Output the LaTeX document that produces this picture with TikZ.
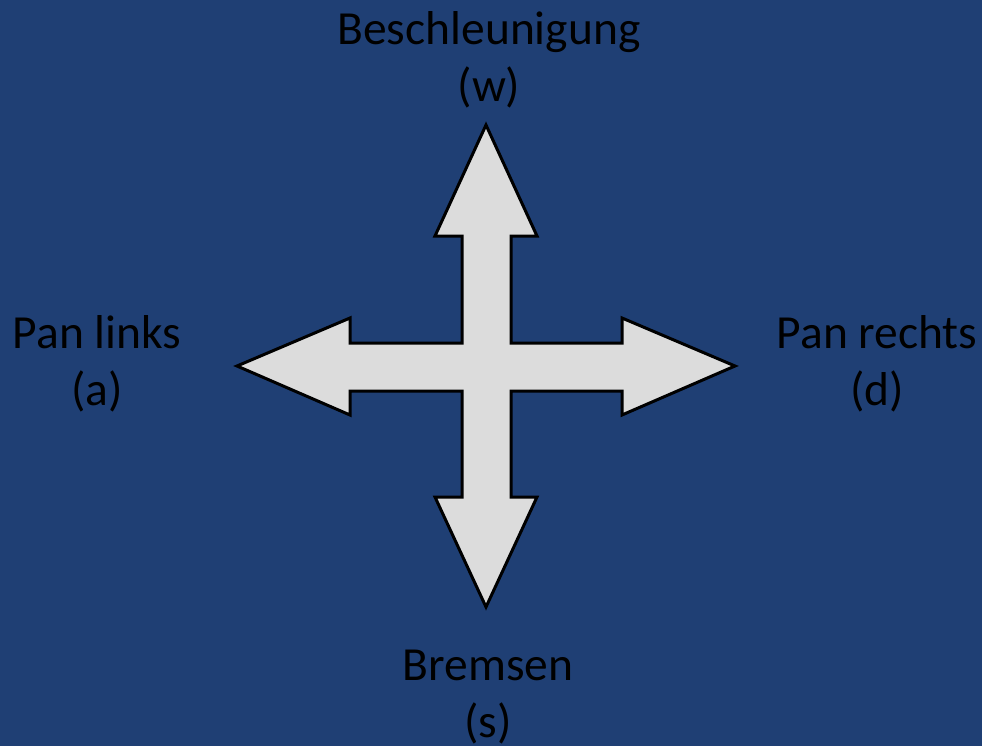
\documentclass[tikz,border=0pt]{standalone}
\usepackage{fontspec}
\setmainfont{Carlito}
\definecolor{bg}{HTML}{1F3F74}
\definecolor{arrowfill}{HTML}{DCDCDC}
\tikzset{
  lbl/.style={text=black, align=center, inner sep=0pt, anchor=base,
    font=\fontsize{47.5}{57}\selectfont},
  cross/.style={draw=black, line width=3pt, fill=arrowfill, line join=miter}
}
\begin{document}
\begin{tikzpicture}[x=1pt,y=-1pt]
\fill[bg] (0,0) rectangle (982,746);
\useasboundingbox (0,0) rectangle (982,746);
\draw[cross] (486,125) -- (537,236) -- (511,236) -- (511,343) -- (622,343) -- (622,318)
  -- (735,366) -- (622,415) -- (622,391) -- (511,391) -- (511,497) -- (537,497)
  -- (486,607) -- (435,497) -- (462,497) -- (462,391) -- (350,391) -- (350,415)
  -- (237,366) -- (350,318) -- (350,343) -- (462,343) -- (462,236) -- (435,236) -- cycle;
\node[lbl] (up) at (489,102) {Beschleunigung\\(w)};
\node[lbl] (left) at (97,405) {Pan links\\(a)};
\node[lbl] (right) at (877,405) {Pan rechts\\(d)};
\node[lbl] (down) at (488,737) {Bremsen\\(s)};
\end{tikzpicture}
\end{document}
